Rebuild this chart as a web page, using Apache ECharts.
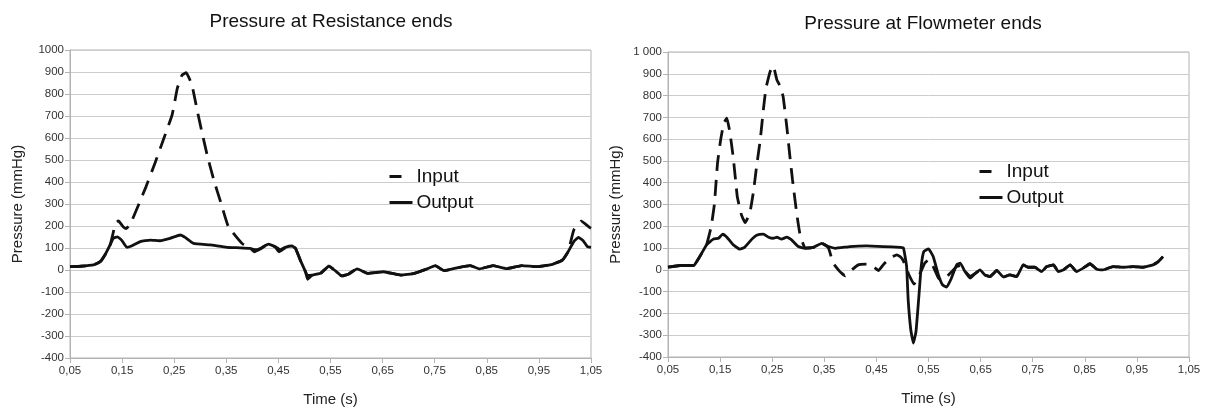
<!DOCTYPE html>
<html>
<head>
<meta charset="utf-8">
<title>Pressure at Resistance / Flowmeter ends</title>
<script src="https://cdn.jsdelivr.net/npm/echarts@6/dist/echarts.min.js"></script>
<style>
  html, body { margin: 0; padding: 0; background: #fff; }
  #main { width: 1205px; height: 412px; }
</style>
</head>
<body>
<div id="main"></div>
<script>
// tick labels shared by both charts
const timeTicks = [0.05, 0.15, 0.25, 0.35, 0.45, 0.55, 0.65, 0.75, 0.85, 0.95, 1.05];

// Resistance ends - output (solid)
const resOutT = [0.050, 0.070, 0.095, 0.108, 0.117, 0.127, 0.133, 0.141, 0.149, 0.159, 0.168, 0.185, 0.204, 0.223, 0.242, 0.262, 0.271, 0.287, 0.319, 0.351, 0.377, 0.396, 0.406, 0.415, 0.431, 0.444, 0.454, 0.463, 0.476, 0.483, 0.492, 0.502, 0.506, 0.515, 0.531, 0.547, 0.560, 0.572, 0.585, 0.601, 0.621, 0.652, 0.685, 0.711, 0.733, 0.751, 0.768, 0.795, 0.818, 0.836, 0.862, 0.888, 0.917, 0.947, 0.976, 0.995, 1.006, 1.017, 1.026, 1.035, 1.043, 1.050];
const resOutP = [15, 17, 23, 38, 68, 114, 144, 151, 136, 103, 109, 129, 136, 133, 144, 159, 148, 121, 114, 103, 101, 98, 92, 98, 118, 106, 92, 103, 109, 98, 45, -8, -25, -23, -15, 18, -5, -27, -18, 5, -15, -8, -23, -15, 3, 20, -3, 11, 20, 5, 20, 6, 20, 15, 26, 45, 83, 129, 148, 133, 106, 103];

// Resistance ends - input (dashed)
const resInT = [0.050, 0.070, 0.095, 0.108, 0.117, 0.127, 0.133, 0.137, 0.143, 0.152, 0.158, 0.167, 0.196, 0.213, 0.229, 0.246, 0.256, 0.265, 0.273, 0.284, 0.294, 0.303, 0.314, 0.327, 0.340, 0.354, 0.380, 0.396, 0.404, 0.415, 0.431, 0.444, 0.451, 0.463, 0.476, 0.483, 0.492, 0.502, 0.506, 0.515, 0.531, 0.547, 0.560, 0.572, 0.585, 0.601, 0.621, 0.652, 0.685, 0.711, 0.733, 0.751, 0.768, 0.795, 0.818, 0.836, 0.862, 0.888, 0.917, 0.947, 0.976, 0.995, 1.006, 1.017, 1.031, 1.047, 1.050];
const resInP = [15, 17, 23, 38, 68, 114, 170, 213, 223, 197, 188, 215, 379, 485, 591, 705, 826, 886, 897, 841, 727, 629, 515, 401, 303, 197, 121, 98, 83, 95, 118, 104, 83, 100, 109, 98, 45, -8, -42, -23, -15, 18, -5, -27, -18, 5, -15, -8, -23, -15, 3, 20, -3, 11, 20, 5, 20, 6, 20, 15, 26, 45, 83, 182, 222, 194, 190];

// Flowmeter ends - output (solid)
const flowOutT = [0.050, 0.073, 0.099, 0.111, 0.124, 0.137, 0.147, 0.155, 0.163, 0.175, 0.188, 0.197, 0.211, 0.220, 0.233, 0.243, 0.252, 0.259, 0.268, 0.278, 0.287, 0.300, 0.313, 0.329, 0.345, 0.358, 0.371, 0.399, 0.431, 0.463, 0.496, 0.502, 0.508, 0.511, 0.516, 0.521, 0.526, 0.531, 0.536, 0.541, 0.550, 0.559, 0.569, 0.577, 0.585, 0.594, 0.604, 0.611, 0.620, 0.630, 0.639, 0.649, 0.658, 0.668, 0.681, 0.694, 0.706, 0.719, 0.732, 0.741, 0.754, 0.767, 0.777, 0.790, 0.799, 0.809, 0.822, 0.834, 0.847, 0.860, 0.873, 0.885, 0.904, 0.924, 0.943, 0.962, 0.981, 0.991, 1.000];
const flowOutP = [12, 20, 20, 61, 115, 141, 145, 164, 150, 115, 95, 103, 141, 159, 164, 150, 145, 150, 141, 150, 138, 107, 99, 103, 122, 107, 99, 107, 110, 107, 103, 100, 15, -138, -275, -336, -283, -138, 15, 84, 96, 61, -23, -69, -79, -38, 23, 31, -8, -38, -18, 0, -23, -31, -3, -33, -23, -31, 23, 12, 12, -8, 15, 23, -8, 0, 23, -8, 8, 28, 3, 0, 15, 12, 15, 12, 23, 38, 61];

// Flowmeter ends - input (dashed)
const flowInT = [0.050, 0.073, 0.099, 0.111, 0.124, 0.128, 0.133, 0.139, 0.145, 0.151, 0.157, 0.163, 0.169, 0.175, 0.179, 0.183, 0.191, 0.198, 0.207, 0.214, 0.220, 0.227, 0.233, 0.238, 0.246, 0.252, 0.259, 0.265, 0.271, 0.278, 0.284, 0.289, 0.297, 0.303, 0.313, 0.329, 0.345, 0.358, 0.367, 0.380, 0.390, 0.399, 0.415, 0.431, 0.444, 0.454, 0.463, 0.476, 0.489, 0.496, 0.502, 0.512, 0.522, 0.534, 0.543, 0.550, 0.559, 0.569, 0.575, 0.585, 0.594, 0.604, 0.611, 0.620, 0.630, 0.639, 0.649, 0.658, 0.668, 0.681, 0.694, 0.706, 0.719, 0.732, 0.741, 0.754, 0.767, 0.777, 0.790, 0.799, 0.809, 0.822, 0.834, 0.847, 0.860, 0.873, 0.885, 0.904, 0.924, 0.943, 0.962, 0.981, 0.991, 1.000];
const flowInP = [12, 20, 20, 61, 115, 150, 200, 300, 489, 596, 673, 696, 627, 520, 428, 336, 252, 217, 260, 359, 474, 596, 734, 833, 910, 936, 872, 844, 795, 657, 520, 413, 260, 168, 101, 103, 122, 100, 31, -8, -27, -8, 23, 26, 15, -3, 23, 54, 69, 60, 40, -20, -65, -15, 31, 46, 15, -38, -48, -31, -10, 15, 20, -5, -30, -18, 0, -23, -31, -3, -33, -23, -31, 23, 12, 12, -8, 15, 23, -8, 0, 23, -8, 8, 28, 3, 0, 15, 12, 15, 12, 23, 38, 61];

const FONT = 'Liberation Sans, Arial, sans-serif';

function zip(ts, ps) {
  return ts.map((t, i) => [t, ps[i]]);
}

function timeLabel(v) {
  return v.toFixed(2).replace('.', ',');
}

function spaced(v) {
  return String(v).replace(/\B(?=(\d{3})+(?!\d))/g, ' ');
}

function xAxisFor(idx) {
  return {
    gridIndex: idx,
    type: 'value',
    min: 0.05,
    max: 1.05,
    name: 'Time (s)',
    nameLocation: 'middle',
    nameGap: 34,
    nameTextStyle: { color: '#222', fontSize: 15, fontFamily: FONT },
    axisLine: { show: true, onZero: false, lineStyle: { color: '#b3b3b3', width: 1 } },
    axisTick: { show: true, length: 5, customValues: timeTicks, lineStyle: { color: '#b3b3b3' } },
    axisLabel: {
      customValues: timeTicks,
      formatter: timeLabel,
      color: '#333',
      fontSize: 11.5,
      fontFamily: FONT,
      margin: 7
    },
    splitLine: { show: false }
  };
}

function yAxisFor(idx, fmt) {
  return {
    gridIndex: idx,
    type: 'value',
    min: -400,
    max: 1000,
    interval: 100,
    name: 'Pressure (mmHg)',
    nameLocation: 'middle',
    nameGap: 45,
    nameTextStyle: { color: '#222', fontSize: 15, fontFamily: FONT },
    axisLine: { show: true, lineStyle: { color: '#b3b3b3', width: 1 } },
    axisTick: { show: true, length: 5, lineStyle: { color: '#b3b3b3' } },
    axisLabel: { formatter: fmt, color: '#333', fontSize: 11.5, fontFamily: FONT, margin: 6 },
    splitLine: { show: true, lineStyle: { color: '#cccccc', width: 1 } }
  };
}

function lineSeries(name, idx, data, dashed) {
  return {
    name: name,
    type: 'line',
    xAxisIndex: idx,
    yAxisIndex: idx,
    data: data,
    symbol: 'none',
    showSymbol: false,
    smooth: 0.12,
    animation: false,
    lineStyle: { color: '#111', width: 2.8, type: dashed ? [16, 9] : 'solid' },
    itemStyle: { color: '#111' },
    z: dashed ? 3 : 2
  };
}

function legendFor(left, top) {
  return {
    orient: 'vertical',
    left: left,
    top: top,
    padding: 0,
    itemGap: 7,
    itemWidth: 23,
    itemHeight: 14,
    itemStyle: { opacity: 0 },
    lineStyle: { width: 3 },
    textStyle: { color: '#111', fontSize: 19, fontFamily: FONT, padding: [0, 0, 0, -1] },
    data: [
      { name: 'Input', lineStyle: { type: [12, 30], width: 3 } },
      { name: 'Output', lineStyle: { type: 'solid', width: 3 } }
    ]
  };
}

const chart = echarts.init(document.getElementById('main'), null, { renderer: 'canvas' });

chart.setOption({
  animation: false,
  backgroundColor: '#fff',
  title: [
    {
      text: 'Pressure at Resistance ends',
      left: 326, top: 7, textAlign: 'center',
      textStyle: { color: '#111', fontSize: 19, fontWeight: 'normal', fontFamily: FONT }
    },
    {
      text: 'Pressure at Flowmeter ends',
      left: 918, top: 9, textAlign: 'center',
      textStyle: { color: '#111', fontSize: 19, fontWeight: 'normal', fontFamily: FONT }
    }
  ],
  legend: [legendFor(388, 167), legendFor(978, 162)],
  grid: [
    { left: 70, right: 614, top: 50, bottom: 54, show: true, borderColor: '#b3b3b3', borderWidth: 1 },
    { left: 668, right: 16, top: 52, bottom: 55, show: true, borderColor: '#b3b3b3', borderWidth: 1 }
  ],
  xAxis: [xAxisFor(0), xAxisFor(1)],
  yAxis: [yAxisFor(0, (v) => String(v)), yAxisFor(1, spaced)],
  series: [
    lineSeries('Output', 0, zip(resOutT, resOutP), false),
    lineSeries('Input', 0, zip(resInT, resInP), true),
    lineSeries('Output', 1, zip(flowOutT, flowOutP), false),
    lineSeries('Input', 1, zip(flowInT, flowInP), true)
  ]
});
</script>
</body>
</html>
